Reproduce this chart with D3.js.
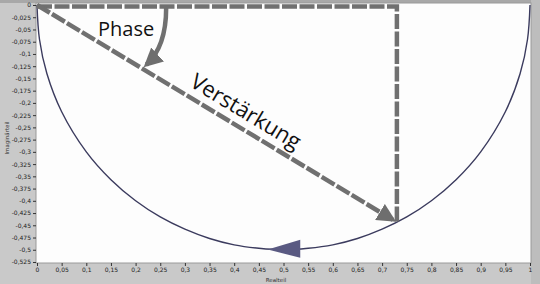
<!DOCTYPE html>
<html>
<head>
<meta charset="utf-8">
<script src="https://cdn.jsdelivr.net/npm/d3@7"></script>
<style>
  body { margin: 0; background: #c8c8c8; }
  svg { display: block; }
</style>
</head>
<body>
<div id="chart"></div>
<script>
var width = 540;
var height = 284;
var margin = {left: 36, right: 9, top: 4, bottom: 22};

let curveRe = [0, 0.005, 0.02, 0.05, 0.1, 0.15, 0.2, 0.25, 0.3, 0.35, 0.4, 0.45, 0.5, 0.55, 0.6, 0.65, 0.7, 0.75, 0.8, 0.85, 0.9, 0.95, 0.98, 0.995, 1];
let curveIm = [0, -0.07, -0.14, -0.218, -0.3, -0.357, -0.4, -0.433, -0.458, -0.477, -0.49, -0.497, -0.5, -0.497, -0.49, -0.477, -0.458, -0.433, -0.4, -0.357, -0.3, -0.218, -0.14, -0.07, 0];

// Arbeitspunkt
let pointRe = 0.73;
let pointIm = -0.444;

let xTicks = [0, 0.05, 0.1, 0.15, 0.2, 0.25, 0.3, 0.35, 0.4, 0.45, 0.5, 0.55, 0.6, 0.65, 0.7, 0.75, 0.8, 0.85, 0.9, 0.95, 1];
let xTickLabels = ["0", "0,05", "0,1", "0,15", "0,2", "0,25", "0,3", "0,35", "0,4", "0,45", "0,5", "0,55", "0,6", "0,65", "0,7", "0,75", "0,8", "0,85", "0,9", "0,95", "1"];
let yTicks = [0, -0.025, -0.05, -0.075, -0.1, -0.125, -0.15, -0.175, -0.2, -0.225, -0.25, -0.275, -0.3, -0.325, -0.35, -0.375, -0.4, -0.425, -0.45, -0.475, -0.5, -0.525];
let yTickLabels = ["0", "-0,025", "-0,05", "-0,075", "-0,1", "-0,125", "-0,15", "-0,175", "-0,2", "-0,225", "-0,25", "-0,275", "-0,3", "-0,325", "-0,35", "-0,375", "-0,4", "-0,425", "-0,45", "-0,475", "-0,5", "-0,525"];

let x = d3.scaleLinear().domain([0, 1]).range([margin.left + 1, width - margin.right - 1]);
let y = d3.scaleLinear().domain([-0.525, 0]).range([262, 5]);

var svg = d3.select("#chart").append("svg").attr("width", width).attr("height", height);

// Hintergrund
svg.append("rect").attr("x", 0).attr("y", 0).attr("width", width).attr("height", height).attr("fill", "#c9c9c9");
svg.append("rect").attr("x", 0).attr("y", 0).attr("width", width).attr("height", 3).attr("fill", "#a8a8a8");
svg.append("rect").attr("x", width - margin.right).attr("y", 0).attr("width", margin.right).attr("height", height).attr("fill", "#bdbdbd");
svg.append("rect").attr("x", margin.left).attr("y", 3)
    .attr("width", width - margin.left - margin.right).attr("height", 260)
    .attr("fill", "#fdfdfd").attr("stroke", "#9a9a9a").attr("stroke-width", 1);

// Achsen
let xAxis = d3.axisBottom(x).tickValues(xTicks).tickFormat((d, i) => xTickLabels[i]).tickSize(3).tickPadding(2);
let gx = svg.append("g").attr("transform", "translate(0,263)").call(xAxis);
let yAxis = d3.axisLeft(y).tickValues(yTicks).tickFormat((d, i) => yTickLabels[i]).tickSize(3).tickPadding(2);
let gy = svg.append("g").attr("transform", `translate(${margin.left},0)`).call(yAxis);
[gx, gy].forEach(g => {
    g.select(".domain").remove();
    g.selectAll("text").attr("font-family", "DejaVu Sans").attr("font-size", 6).attr("fill", "#222");
    g.selectAll("line").attr("stroke", "#333");
});

svg.append("text").attr("x", 276).attr("y", 282).attr("text-anchor", "middle")
    .attr("font-family", "DejaVu Sans").attr("font-size", 5.5).attr("fill", "#333").text("Realteil");
svg.append("text").attr("transform", "translate(9,138) rotate(-90)").attr("text-anchor", "middle")
    .attr("font-family", "DejaVu Sans").attr("font-size", 5.5).attr("fill", "#333").text("Imaginärteil");

// Ortskurve
let curveData = curveRe.map((d, i) => [d, curveIm[i]]);
let line = d3.line().x(d => x(d[0])).y(d => y(d[1])).curve(d3.curveCatmullRom);
svg.append("path").datum(curveData).attr("d", line)
    .attr("fill", "none").attr("stroke", "#3b3b5e").attr("stroke-width", 1.4);

// Richtungspfeil auf der Kurve
let tipRe = 0.468, baseRe = 0.534;
let tip = [x(tipRe), y(-0.4995)];
let base = [x(baseRe), y(-0.498)];
svg.append("path")
    .attr("d", `M${tip[0]},${tip[1]} L${base[0]},${base[1] - 9} L${base[0]},${base[1] + 9} Z`)
    .attr("fill", "#5a5a82");

// Annotationen
let defs = svg.append("defs");
defs.append("marker").attr("id", "head").attr("viewBox", "0 0 10 10")
    .attr("refX", 8).attr("refY", 5).attr("markerWidth", 4.2).attr("markerHeight", 4.2)
    .attr("markerUnits", "strokeWidth").attr("orient", "auto")
    .append("path").attr("d", "M0,0 L10,5 L0,10 Z").attr("fill", "#6e6e6e");

let grey = "#707070";
// Realteil + Imaginärteil
svg.append("path")
    .attr("d", `M${x(0)},${y(0) + 1.5} L${x(pointRe)},${y(0) + 1.5} L${x(pointRe)},${y(pointIm)}`)
    .attr("fill", "none").attr("stroke", grey).attr("stroke-width", 4.5)
    .attr("stroke-dasharray", "15,2.5");
// Zeiger
svg.append("line")
    .attr("x1", x(0)).attr("y1", y(0)).attr("x2", x(pointRe) - 4).attr("y2", y(pointIm) - 2.5)
    .attr("stroke", grey).attr("stroke-width", 4.5).attr("stroke-dasharray", "15,2.5")
    .attr("marker-end", "url(#head)");
// Phasenbogen
svg.append("path")
    .attr("d", `M${x(0.262)},${y(0) + 3} Q${x(0.262)},${y(-0.085)} ${x(0.222)},${y(-0.122)}`)
    .attr("fill", "none").attr("stroke", grey).attr("stroke-width", 4.5)
    .attr("marker-end", "url(#head)");

svg.append("text").attr("x", 98).attr("y", 36)
    .attr("font-family", "Open Sans").attr("font-size", 20).attr("fill", "#111").text("Phase");

let ang = Math.atan2(y(pointIm) - y(0), x(pointRe) - x(0)) * 180 / Math.PI;
svg.append("text").attr("transform", `translate(242,118) rotate(${ang})`).attr("text-anchor", "middle")
    .attr("font-family", "Open Sans").attr("font-size", 22).attr("fill", "#111").text("Verstärkung");
</script>
</body>
</html>
